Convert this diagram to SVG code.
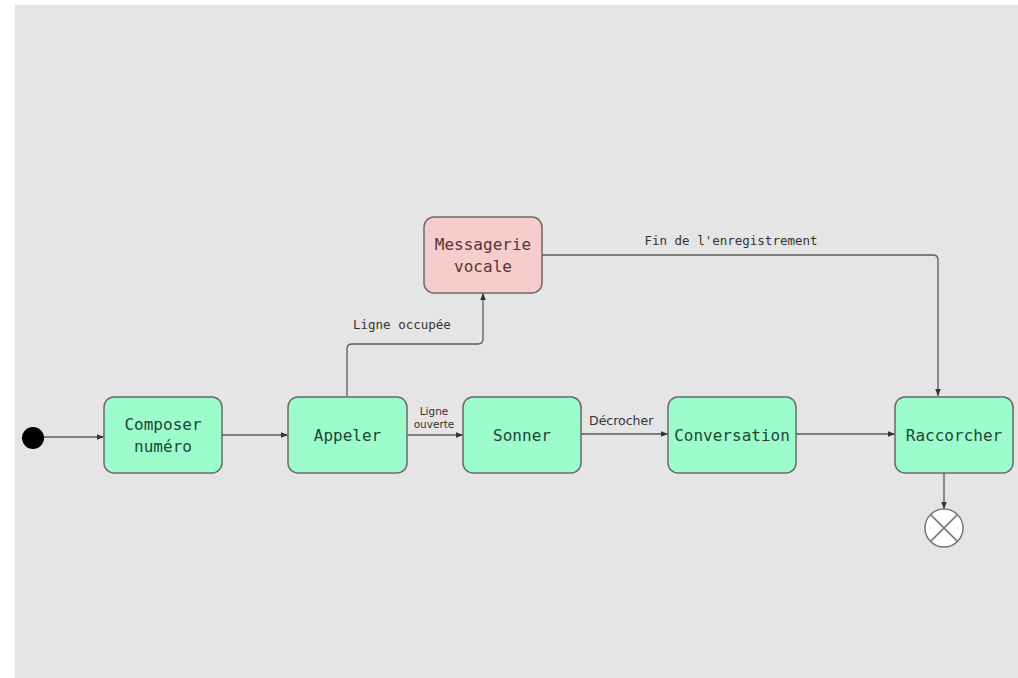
<svg xmlns="http://www.w3.org/2000/svg" width="1018" height="678" viewBox="0 0 1018 678">
<style>
.node rect{fill:#9cfccb;stroke:#6a6a6a;stroke-width:1.5}
.node.red rect{fill:#f7cccc}
.node text{font-family:"DejaVu Sans Mono","Liberation Mono",monospace;font-size:16px;fill:#1d4636;text-anchor:middle}
.node.red text{fill:#5a3434}
.edge{fill:none;stroke:#5a5a5a;stroke-width:1.3}
.lbl{font-family:"DejaVu Sans Mono","Liberation Mono",monospace;font-size:12.5px;fill:#333}
.lbls{font-family:"DejaVu Sans","Liberation Sans",sans-serif;fill:#333}
</style>
<defs>
<marker id="arr" viewBox="0 0 10 10" refX="10" refY="5" markerWidth="7" markerHeight="7" orient="auto" markerUnits="userSpaceOnUse">
<path d="M0,1 L10,5 L0,9 z" fill="#333"/>
</marker>
</defs>
<rect x="0" y="0" width="1018" height="678" fill="#ffffff"/>
<rect x="15" y="5" width="1003" height="673" fill="#e5e5e5"/>
<g id="connectors">
<line class="edge" x1="44" y1="437" x2="104" y2="437" marker-end="url(#arr)"/>
<line class="edge" x1="222" y1="435" x2="288" y2="435" marker-end="url(#arr)"/>
<path class="edge" d="M347,396 V349 Q347,344 352,344 H478 Q483,344 483,339 V293" marker-end="url(#arr)"/>
<text class="lbl" x="353" y="329">Ligne occupée</text>
<line class="edge" x1="407" y1="435" x2="463" y2="435" marker-end="url(#arr)"/>
<text class="lbls" x="434" y="415" font-size="10.5" text-anchor="middle">Ligne</text>
<text class="lbls" x="434" y="428" font-size="10.5" text-anchor="middle">ouverte</text>
<line class="edge" x1="581" y1="434" x2="668" y2="434" marker-end="url(#arr)"/>
<text class="lbls" x="589" y="425" font-size="12.5">Décrocher</text>
<line class="edge" x1="796" y1="434" x2="895" y2="434" marker-end="url(#arr)"/>
<path class="edge" d="M542,255 H933 Q938,255 938,260 V396" marker-end="url(#arr)"/>
<text class="lbl" x="731" y="245" text-anchor="middle">Fin de l'enregistrement</text>
<line class="edge" x1="944" y1="473" x2="944" y2="509" marker-end="url(#arr)"/>
</g>
<g id="initial"><circle cx="33" cy="438" r="11" fill="#000"/></g>
<g id="composer" class="node"><rect x="104" y="397" width="118" height="76" rx="10"/><text x="163" y="430">Composer</text><text x="163" y="452">numéro</text></g>
<g id="appeler" class="node"><rect x="288" y="397" width="119" height="76" rx="10"/><text x="347.5" y="441">Appeler</text></g>
<g id="sonner" class="node"><rect x="463" y="397" width="118" height="76" rx="10"/><text x="522" y="441">Sonner</text></g>
<g id="conversation" class="node"><rect x="668" y="397" width="128" height="76" rx="10"/><text x="732" y="441">Conversation</text></g>
<g id="raccorcher" class="node"><rect x="895" y="397" width="118" height="76" rx="10"/><text x="954" y="441">Raccorcher</text></g>
<g id="messagerie" class="node red"><rect x="424" y="217" width="118" height="76" rx="10"/><text x="483" y="250">Messagerie</text><text x="483" y="272">vocale</text></g>
<g id="final">
<circle cx="944" cy="528" r="19" fill="#fff" stroke="#777" stroke-width="1.5"/>
<path d="M930.6,514.6 L957.4,541.4 M957.4,514.6 L930.6,541.4" stroke="#777" stroke-width="1.5"/>
</g>
</svg>
